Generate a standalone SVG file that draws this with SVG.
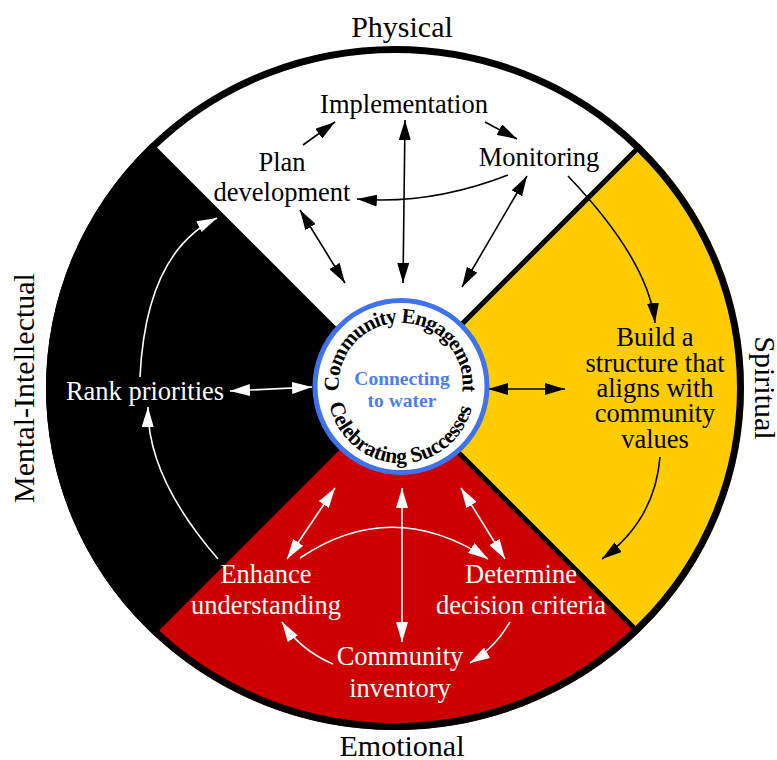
<svg xmlns="http://www.w3.org/2000/svg" width="777" height="760" viewBox="0 0 777 760">
<style>
.t{font-family:'Liberation Serif','Times New Roman',Times,'Noto Serif','DejaVu Serif',serif;font-size:26.5px;text-anchor:middle}
.side{font-family:'Liberation Serif','Times New Roman',Times,'Noto Serif','DejaVu Serif',serif;font-size:30px;text-anchor:middle;fill:#000}
.dk{fill:#000}
.wt{fill:#fff}
.arc{font-family:'Liberation Serif','Times New Roman',Times,'Noto Serif','DejaVu Serif',serif;font-weight:bold;fill:#000}
.ctr{font-family:'Liberation Serif','Times New Roman',Times,'Noto Serif','DejaVu Serif',serif;font-weight:bold;font-size:19.5px;fill:#4d7ef0;text-anchor:middle}
.cb{fill:none;stroke:#000;stroke-width:1.6}
.cw{fill:none;stroke:#fff;stroke-width:1.6}
.e1{marker-end:url(#ab)}
.e2{marker-start:url(#ab);marker-end:url(#ab)}
.w1{marker-end:url(#aw)}
.w2{marker-start:url(#aw);marker-end:url(#aw)}
</style>
<defs>
<marker id="ab" markerUnits="userSpaceOnUse" markerWidth="20" markerHeight="12" refX="20" refY="6" orient="auto-start-reverse" viewBox="0 0 20 12"><path d="M0,0 L20,6 L0,12 Z" fill="#000"/></marker>
<marker id="aw" markerUnits="userSpaceOnUse" markerWidth="20" markerHeight="12" refX="20" refY="6" orient="auto-start-reverse" viewBox="0 0 20 12"><path d="M0,0 L20,6 L0,12 Z" fill="#fff"/></marker>
<clipPath id="ring"><ellipse cx="395" cy="388" rx="349" ry="342"/></clipPath>
<path id="topArc" d="M 339 391 A 62 62 0 1 1 459.3 405"/>
<path id="botArc" d="M 329.3 403.9 A 73 73 0 0 0 472.7 403.9"/>
</defs>
<g id="wheel">
<g clip-path="url(#ring)">
<path d="M396 390 L-100 -106 L892 -106 Z" fill="#fff"/>
<path d="M396 390 L892 -106 L892 886 Z" fill="#ffcc00"/>
<path d="M396 390 L892 886 L-100 886 Z" fill="#cc0000"/>
<path d="M396 390 L-100 886 L-100 -106 Z" fill="#000"/>
<path d="M396 390 L796 -10 M396 390 L796 790 M396 390 L-4 790 M396 390 L-4 -10" stroke="#000" stroke-width="5"/>
</g>
<ellipse cx="395" cy="388" rx="345.5" ry="338.5" fill="none" stroke="#000" stroke-width="7"/>
</g>
<g id="labels">
<text class="side" x="402" y="37">Physical</text>
<text class="side" x="402" y="756">Emotional</text>
<text class="side" transform="translate(34,388) rotate(-90)">Mental-Intellectual</text>
<text class="side" transform="translate(755,388) rotate(90)">Spiritual</text>
</g>
<g id="connectors">
<path class="cb e1" d="M303 145 L335 122"/>
<path class="cb e1" d="M485 122 L517 139"/>
<path class="cb e1" d="M508 175 Q431 205 357 199"/>
<path class="cb e2" d="M300 210 L345 283" stroke-width="2"/>
<path class="cb e2" d="M405 120 L403 283" stroke-width="2"/>
<path class="cb e2" d="M527 176 L462 287" stroke-width="2"/>
<path class="cb e1" d="M568 176 Q648.5 260.5 655 323"/>
<path class="cb e2" d="M488 389 L565 389" stroke-width="2"/>
<path class="cb e1" d="M660 457 Q655 520 602 559"/>
<path class="cw w2" d="M335 488 L287 559" stroke-width="2"/>
<path class="cw w2" d="M402 488 L402 642" stroke-width="2"/>
<path class="cw w2" d="M461 488 L505 559" stroke-width="2"/>
<path class="cw w1" d="M300 558 Q392 496 488 559"/>
<path class="cw w1" d="M510 622 Q495 648 470 663"/>
<path class="cw w1" d="M333 664 Q300 650 282 622"/>
<path class="cw w1" d="M218 559 Q147 477 148 407"/>
<path class="cw w1" d="M140 377 Q146 252 217 218"/>
<path class="cw w2" d="M230 391 L312 387" stroke-width="2"/>
</g>
<g id="center">
<circle cx="401" cy="386.5" r="86" fill="#fff" stroke="#3f72ee" stroke-width="5"/>
<text class="arc" font-size="21" letter-spacing="-0.9"><textPath href="#topArc">Community Engagement</textPath></text>
<text class="arc" font-size="21.5" letter-spacing="-0.2"><textPath href="#botArc">Celebrating Successes</textPath></text>
<text class="ctr" x="402" y="385">Connecting</text>
<text class="ctr" x="402" y="407">to water</text>
</g>
<g id="implementation"><text class="t dk" x="404" y="113">Implementation</text></g>
<g id="plan"><text class="t dk" x="282" y="171">Plan</text><text class="t dk" x="282" y="201">development</text></g>
<g id="monitoring"><text class="t dk" x="539" y="166">Monitoring</text></g>
<g id="build"><text class="t dk" x="655" y="346">Build a</text><text class="t dk" x="655" y="372">structure that</text><text class="t dk" x="655" y="397">aligns with</text><text class="t dk" x="655" y="422">community</text><text class="t dk" x="655" y="448">values</text></g>
<g id="rank"><text class="t wt" x="145" y="400">Rank priorities</text></g>
<g id="enhance"><text class="t wt" x="266" y="583">Enhance</text><text class="t wt" x="266" y="614">understanding</text></g>
<g id="determine"><text class="t wt" x="521" y="583">Determine</text><text class="t wt" x="521" y="614">decision criteria</text></g>
<g id="inventory"><text class="t wt" x="400" y="665">Community</text><text class="t wt" x="400" y="697">inventory</text></g>
</svg>
